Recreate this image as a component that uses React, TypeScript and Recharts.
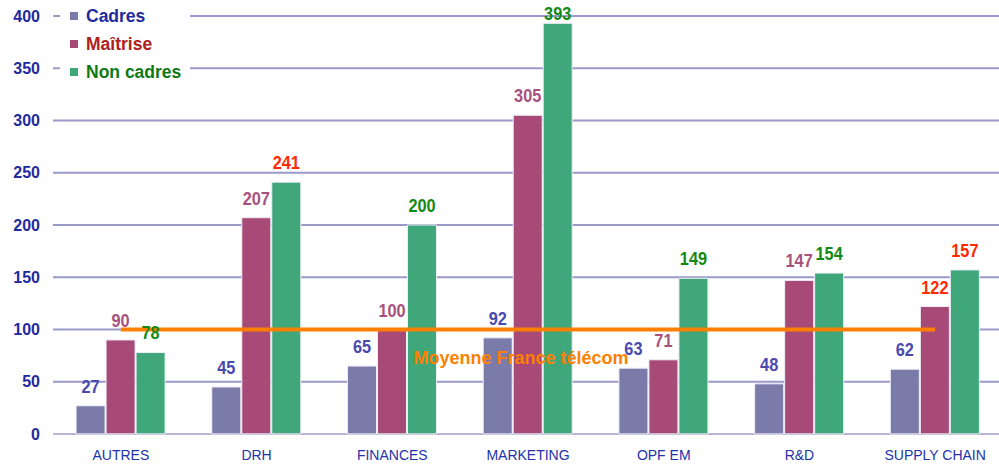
import React from "react";
import {
  ComposedChart,
  Bar,
  Line,
  XAxis,
  YAxis,
  CartesianGrid,
  Legend,
  LabelList,
} from "recharts";

const categories = ["AUTRES", "DRH", "FINANCES", "MARKETING", "OPF EM", "R&D", "SUPPLY CHAIN"];
const cadres = [27, 45, 65, 92, 63, 48, 62];
const maitrise = [90, 207, 100, 305, 71, 147, 122];
const nonCadres = [78, 241, 200, 393, 149, 154, 157];
const moyenneFT = [100, 100, 100, 100, 100, 100, 100];
const yTicks = [0, 50, 100, 150, 200, 250, 300, 350, 400];
const moyenneLabel = "Moyenne France télécom";
const moyenneLabelCategory = "MARKETING";
const highlightedLabels = ["DRH:nonCadres", "SUPPLY CHAIN:maitrise", "SUPPLY CHAIN:nonCadres"];

const data = categories.map((c, i) => ({
  name: c,
  cadres: cadres[i],
  maitrise: maitrise[i],
  nonCadres: nonCadres[i],
  moyenne: moyenneFT[i],
}));

const COLORS = {
  cadres: "#7B7BAA",
  maitrise: "#A84A77",
  nonCadres: "#3FA77A",
  orange: "#FF8000",
  grid: "#9A9ACA",
  axisText: "#1E2A9E",
  catText: "#2233AA",
};
const LABEL_COLORS: Record<string, string> = {
  cadres: "#4A4AAE",
  maitrise: "#A8507E",
  nonCadres: "#138A13",
};
const HIGHLIGHT = "#FF2A00";
const LEGEND_TEXT: Record<string, string> = {
  cadres: "#1E2A9E",
  maitrise: "#B0201A",
  nonCadres: "#0E7A14",
};

const makeLabel = (key: string) => (props: any) => {
  const { x, y, width, value, index } = props;
  const cat = categories[index];
  const hl = highlightedLabels.includes(`${cat}:${key}`);
  const baseline = Math.max(Number(y) - 13, 20);
  const cx = Number(x) + Number(width) / 2;
  return (
    <text
      x={0}
      y={0}
      transform={`translate(${cx},${baseline}) scale(0.86,1)`}
      textAnchor="middle"
      fill={hl ? HIGHLIGHT : LABEL_COLORS[key]}
      style={{
        fontFamily: "'Liberation Sans', Arial, sans-serif",
        fontWeight: 700,
        fontSize: 19,
      }}
    >
      {value}
    </text>
  );
};

const MoyenneText = (props: any) => {
  const { x, y, index } = props;
  if (categories[index] !== moyenneLabelCategory) return null;
  return (
    <text
      x={Number(x) - 7}
      y={Number(y) + 34}
      textAnchor="middle"
      fill={COLORS.orange}
      style={{ fontFamily: "'Liberation Sans', Arial, sans-serif", fontWeight: 700, fontSize: 18 }}
    >
      {moyenneLabel}
    </text>
  );
};

const LegendContent = (props: any) => {
  const items = (props.payload || []).filter((p: any) => p.type !== "none");
  return (
    <div style={{ background: "#fff", width: 130, padding: "2px 0" }}>
      {items.map((p: any) => (
        <div
          key={p.dataKey}
          style={{ display: "flex", alignItems: "center", height: 28, paddingLeft: 10 }}
        >
          <span style={{ width: 8, height: 8, background: p.color, display: "inline-block", marginRight: 8 }} />
          <span
            style={{
              fontFamily: "'Liberation Sans', Arial, sans-serif",
              fontWeight: 700,
              fontSize: 17.5,
              color: LEGEND_TEXT[p.dataKey],
              lineHeight: "28px",
            }}
          >
            {p.value}
          </span>
        </div>
      ))}
    </div>
  );
};

export default function App() {
  return (
    <div
      style={{
        position: "absolute",
        left: 0,
        top: 0,
        width: 999,
        height: 466,
        overflow: "hidden",
        background: "#fff",
      }}
    >
      <ComposedChart
        width={1003}
        height={466}
        data={data}
        margin={{ top: 16, right: 0, bottom: 0, left: 0 }}
        barCategoryGap="17%"
        barGap={1}
      >
        <CartesianGrid horizontal vertical={false} stroke={COLORS.grid} strokeWidth={2} />
        <XAxis
          dataKey="name"
          height={32}
          tickLine={false}
          tickSize={0}
          tickMargin={16}
          axisLine={{ stroke: "#D6D6E4", strokeWidth: 1 }}
          interval={0}
          tick={{ fill: COLORS.catText, fontSize: 14, fontFamily: "'Liberation Sans', Arial, sans-serif" }}
        />
        <YAxis
          width={53}
          domain={[0, 400]}
          ticks={yTicks}
          tickLine={false}
          axisLine={false}
          tickSize={0}
          tickMargin={13}
          tick={{
            fill: COLORS.axisText,
            fontSize: 16,
            fontWeight: 700,
            fontFamily: "'Liberation Sans', Arial, sans-serif",
          }}
        />
        <Legend
          layout="vertical"
          align="center"
          verticalAlign="middle"
          content={<LegendContent />}
          wrapperStyle={{ left: 60, top: 0, width: 130 }}
        />
        <Bar dataKey="cadres" name="Cadres" fill={COLORS.cadres} stroke="#EEEEF6" strokeWidth={1} isAnimationActive={false}>
          <LabelList dataKey="cadres" content={makeLabel("cadres")} />
        </Bar>
        <Bar dataKey="maitrise" name="Maîtrise" fill={COLORS.maitrise} stroke="#EEEEF6" strokeWidth={1} isAnimationActive={false}>
          <LabelList dataKey="maitrise" content={makeLabel("maitrise")} />
        </Bar>
        <Bar dataKey="nonCadres" name="Non cadres" fill={COLORS.nonCadres} stroke="#EEEEF6" strokeWidth={1} isAnimationActive={false}>
          <LabelList dataKey="nonCadres" content={makeLabel("nonCadres")} />
        </Bar>
        <Line
          dataKey="moyenne"
          stroke={COLORS.orange}
          strokeWidth={4}
          dot={false}
          activeDot={false}
          legendType="none"
          isAnimationActive={false}
        >
          <LabelList dataKey="moyenne" content={<MoyenneText />} />
        </Line>
      </ComposedChart>
    </div>
  );
}
